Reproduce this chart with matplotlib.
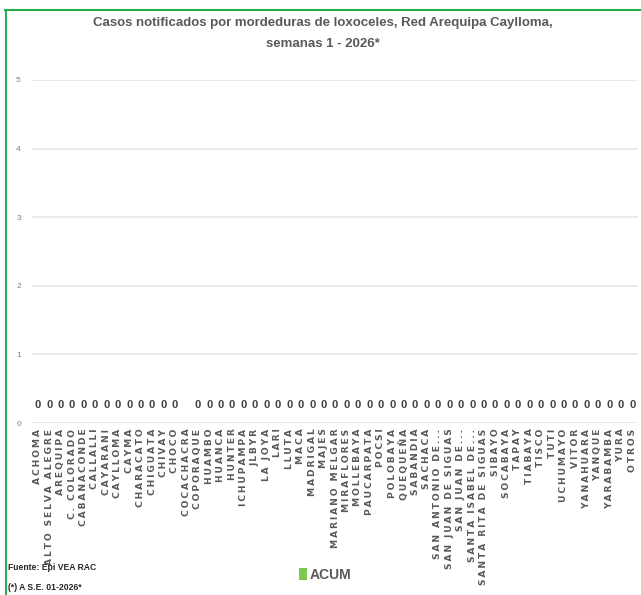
import matplotlib
matplotlib.use('Agg')
import matplotlib.pyplot as plt
from matplotlib.lines import Line2D
import numpy as np

# Data
distritos = ['ACHOMA', 'ALTO SELVA ALEGRE', 'AREQUIPA', 'C. COLORADO', 'CABANACONDE',
             'CALLALLI', 'CAYARANI', 'CAYLLOMA', 'CAYMA', 'CHARACATO', 'CHIGUATA',
             'CHIVAY', 'CHOCO', 'COCACHACRA', 'COPORAQUE', 'HUAMBO', 'HUANCA', 'HUNTER',
             'ICHUPAMPA', 'JLBYR', 'LA JOYA', 'LARI', 'LLUTA', 'MACA', 'MADRIGAL', 'MAJES',
             'MARIANO MELGAR', 'MIRAFLORES', 'MOLLEBAYA', 'PAUCARPATA', 'POCSI',
             'POLOBAYA', 'QUEQUEÑA', 'SABANDIA', 'SACHACA', 'SAN ANTONIO DE...',
             'SAN JUAN DE SIGUAS', 'SAN JUAN DE...', 'SANTA ISABEL DE...',
             'SANTA RITA DE SIGUAS', 'SIBAYO', 'SOCABAYA', 'TAPAY', 'TIABAYA', 'TISCO',
             'TUTI', 'UCHUMAYO', 'VITOR', 'YANAHUARA', 'YANQUE', 'YARABAMBA', 'YURA',
             'OTROS']
# COCACHACRA has no value shown
acum = [0] * 13 + [None] + [0] * 39
yticks = [0, 1, 2, 3, 4, 5]

narrow = ['Liberation Sans', 'DejaVu Sans']
gray = '#595959'

fig = plt.figure(figsize=(6.41, 5.95), dpi=100)
ax = fig.add_axes([32/641, 172/595, 606/641, 343/595])

x = np.arange(len(distritos))
vals = np.array([np.nan if v is None else v for v in acum], dtype=float)
ax.bar(x, np.nan_to_num(vals), width=0.6, color='#7CC84A', label='ACUM')

for i, v in enumerate(vals):
    if not np.isnan(v):
        ax.annotate('{:d}'.format(int(v)), (i, v), xytext=(0, 9), textcoords='offset points',
                    ha='center', va='bottom', fontsize=8, fontweight='bold', color='#404040',
                    family=narrow)

# wide letter spacing like the original labels
spaced = ['\u2009'.join(d) for d in distritos]

ax.set_xlim(-0.5, len(distritos) - 0.5)
ax.set_ylim(0, 5)
ax.set_yticks(yticks)
ax.set_yticklabels([str(t) for t in yticks], fontsize=6, color='#808080', family=narrow)
ax.set_xticks(x)
ax.set_xticklabels(spaced, rotation=90, fontsize=6.6, fontweight='bold', color=gray,
                   family='DejaVu Sans')
ax.tick_params(axis='both', length=0)
ax.tick_params(axis='y', pad=8)
ax.tick_params(axis='x', pad=4)
ax.grid(axis='y', color='#E6E6E6', linewidth=1.2)
ax.set_axisbelow(True)
for s in ax.spines.values():
    s.set_visible(False)

fig.text(323/641, 1 - 23/595, 'Casos notificados por mordeduras de loxoceles, Red Arequipa Caylloma,',
         ha='center', va='center', fontsize=9.5, fontweight='bold', color=gray, family=narrow)
fig.text(323/641, 1 - 44/595, 'semanas 1 - 2026*',
         ha='center', va='center', fontsize=9.5, fontweight='bold', color=gray, family=narrow)

fig.legend(loc='center', bbox_to_anchor=(325/641, 1 - 575/595), frameon=False,
           handlelength=0.6, handleheight=0.9, handletextpad=0.2,
           prop={'family': narrow, 'size': 10, 'weight': 'bold'}, labelcolor=gray)

fig.text(8/641, 1 - 568/595, 'Fuente: Epi VEA RAC', ha='left', va='center',
         fontsize=6.2, fontweight='bold', color='#262626', family=narrow)
fig.text(8/641, 1 - 587/595, '(*) A S.E. 01-2026*', ha='left', va='center',
         fontsize=6.2, fontweight='bold', color='#262626', family=narrow)

# Green frame (top and left edges visible)
fig.add_artist(Line2D([5/641, 1], [1 - 10/595, 1 - 10/595], color='#22B14C', linewidth=1.5,
                      transform=fig.transFigure))
fig.add_artist(Line2D([6/641, 6/641], [1 - 10/595, 0], color='#22B14C', linewidth=1.5,
                      transform=fig.transFigure))

fig.savefig('out.png', dpi=100)
